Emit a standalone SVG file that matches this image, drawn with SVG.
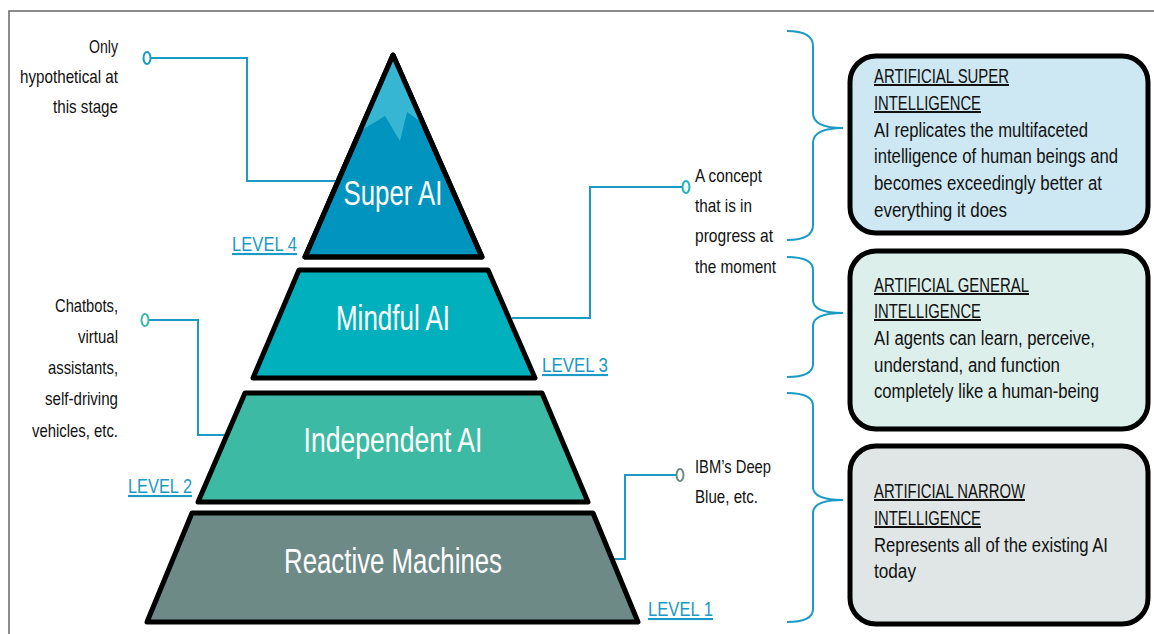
<svg xmlns="http://www.w3.org/2000/svg" width="1154" height="634" viewBox="0 0 1154 634">
<style>
.t{font-family:"Liberation Sans Narrow","Liberation Sans",Arial,sans-serif;fill:#111}
.lab{font-family:"Liberation Sans Narrow","Liberation Sans",Arial,sans-serif;fill:#fff;font-size:35px}
.lv{font-family:"Liberation Sans Narrow","Liberation Sans",Arial,sans-serif;fill:#1a9ac4;font-size:21px;text-decoration:underline}
.c{font-size:19px}
.b{font-size:20px}
.tier{stroke:#000;stroke-width:5;stroke-linejoin:round}
.ln{fill:none;stroke:#1a9ac4;stroke-width:2}
.box{stroke:#000;stroke-width:5}
</style>
<rect width="1154" height="634" fill="#fff"/>
<path d="M9,634 V11 H1154" fill="none" stroke="#666" stroke-width="1.5"/>

<g id="connectors">
<path class="ln" d="M151,58 H247 V181 H338"/>
<ellipse cx="147" cy="58" rx="3.5" ry="6" fill="#fff" stroke="#1a9ac4" stroke-width="2"/>
<path class="ln" d="M682,187 H590 V318 H512"/>
<ellipse cx="686" cy="187" rx="3.5" ry="6" fill="#fff" stroke="#1fb3bd" stroke-width="2"/>
<path class="ln" d="M149,320 H198 V435 H228"/>
<ellipse cx="145" cy="320" rx="3.5" ry="6" fill="#fff" stroke="#3dbba3" stroke-width="2"/>
<path class="ln" d="M676,475 H625 V559 H614"/>
<ellipse cx="680" cy="475" rx="3.5" ry="6" fill="#fff" stroke="#6e8b87" stroke-width="2"/>
<path class="ln" d="M787,31 Q813,31 813,46 V113 Q813,128 843,128 Q813,128 813,143 V225 Q813,240 787,240"/>
<path class="ln" d="M787,257 Q813,257 813,270 V300 Q813,313 843,313 Q813,313 813,326 V364 Q813,377 787,377"/>
<path class="ln" d="M787,393 Q813,393 813,406 V487 Q813,500 843,500 Q813,500 813,513 V609 Q813,622 787,622"/>
</g>

<g id="tier-super">
<path class="tier" d="M393,55 L305,257 L482,257 Z" fill="#0094bf"/>
<path d="M393,58 L362,130 L385,116 L400,141 L407,112 L421,122 Z" fill="#36b6d3"/>
<path d="M393,55 L305,257 L482,257 Z" fill="none" stroke="#000" stroke-width="5" stroke-linejoin="round"/>
<text class="lab" x="393" y="205" text-anchor="middle" textLength="99" lengthAdjust="spacingAndGlyphs">Super AI</text>
<text class="lv" x="232" y="251" textLength="65" lengthAdjust="spacingAndGlyphs">LEVEL 4</text>
</g>

<g id="tier-mindful">
<path class="tier" d="M299,270 L488,270 L535,378 L253,378 Z" fill="#00b1bd"/>
<text class="lab" x="393" y="330" text-anchor="middle" textLength="114" lengthAdjust="spacingAndGlyphs">Mindful AI</text>
<text class="lv" x="542" y="372" textLength="66" lengthAdjust="spacingAndGlyphs">LEVEL 3</text>
</g>

<g id="tier-independent">
<path class="tier" d="M245,393 L542,393 L588,502 L198,502 Z" fill="#3cbaa3"/>
<text class="lab" x="393" y="452" text-anchor="middle" textLength="179" lengthAdjust="spacingAndGlyphs">Independent AI</text>
<text class="lv" x="128" y="493" textLength="64" lengthAdjust="spacingAndGlyphs">LEVEL 2</text>
</g>

<g id="tier-reactive">
<path class="tier" d="M192,513 L593,513 L638,622 L147,622 Z" fill="#6d8a87"/>
<text class="lab" x="393" y="573" text-anchor="middle" textLength="218" lengthAdjust="spacingAndGlyphs">Reactive Machines</text>
<text class="lv" x="648" y="616" textLength="65" lengthAdjust="spacingAndGlyphs">LEVEL 1</text>
</g>

<g id="note-super" class="t c" text-anchor="end">
<text x="118" y="53" textLength="29" lengthAdjust="spacingAndGlyphs">Only</text>
<text x="118" y="83" textLength="98" lengthAdjust="spacingAndGlyphs">hypothetical at</text>
<text x="118" y="113" textLength="65" lengthAdjust="spacingAndGlyphs">this stage</text>
</g>

<g id="note-mindful" class="t c">
<text x="695" y="182" textLength="67" lengthAdjust="spacingAndGlyphs">A concept</text>
<text x="695" y="212" textLength="57" lengthAdjust="spacingAndGlyphs">that is in</text>
<text x="695" y="242" textLength="78" lengthAdjust="spacingAndGlyphs">progress at</text>
<text x="695" y="273" textLength="81" lengthAdjust="spacingAndGlyphs">the moment</text>
</g>

<g id="note-independent" class="t c" text-anchor="end">
<text x="118" y="312" textLength="63" lengthAdjust="spacingAndGlyphs">Chatbots,</text>
<text x="118" y="343" textLength="40" lengthAdjust="spacingAndGlyphs">virtual</text>
<text x="118" y="374" textLength="70" lengthAdjust="spacingAndGlyphs">assistants,</text>
<text x="118" y="405" textLength="73" lengthAdjust="spacingAndGlyphs">self-driving</text>
<text x="118" y="437" textLength="86" lengthAdjust="spacingAndGlyphs">vehicles, etc.</text>
</g>

<g id="note-reactive" class="t c">
<text x="695" y="473" textLength="76" lengthAdjust="spacingAndGlyphs">IBM’s Deep</text>
<text x="695" y="503" textLength="63" lengthAdjust="spacingAndGlyphs">Blue, etc.</text>
</g>

<g id="box-super">
<rect class="box" x="850" y="56" width="298" height="177" rx="26" fill="#cde8f2"/>
<g class="t b">
<text x="874" y="83" text-decoration="underline" textLength="135" lengthAdjust="spacingAndGlyphs">ARTIFICIAL SUPER</text>
<text x="874" y="110" text-decoration="underline" textLength="107" lengthAdjust="spacingAndGlyphs">INTELLIGENCE</text>
<text x="874" y="137" textLength="214" lengthAdjust="spacingAndGlyphs">AI replicates the multifaceted</text>
<text x="874" y="163" textLength="244" lengthAdjust="spacingAndGlyphs">intelligence of human beings and</text>
<text x="874" y="190" textLength="228" lengthAdjust="spacingAndGlyphs">becomes exceedingly better at</text>
<text x="874" y="217" textLength="133" lengthAdjust="spacingAndGlyphs">everything it does</text>
</g>
</g>

<g id="box-general">
<rect class="box" x="850" y="251" width="298" height="178" rx="26" fill="#dcefea"/>
<g class="t b">
<text x="874" y="292" text-decoration="underline" textLength="155" lengthAdjust="spacingAndGlyphs">ARTIFICIAL GENERAL</text>
<text x="874" y="318" text-decoration="underline" textLength="107" lengthAdjust="spacingAndGlyphs">INTELLIGENCE</text>
<text x="874" y="345" textLength="221" lengthAdjust="spacingAndGlyphs">AI agents can learn, perceive,</text>
<text x="874" y="372" textLength="186" lengthAdjust="spacingAndGlyphs">understand, and function</text>
<text x="874" y="398" textLength="225" lengthAdjust="spacingAndGlyphs">completely like a human-being</text>
</g>
</g>

<g id="box-narrow">
<rect class="box" x="850" y="446" width="298" height="178" rx="26" fill="#dfe6e5"/>
<g class="t b">
<text x="874" y="498" text-decoration="underline" textLength="151" lengthAdjust="spacingAndGlyphs">ARTIFICIAL NARROW</text>
<text x="874" y="525" text-decoration="underline" textLength="107" lengthAdjust="spacingAndGlyphs">INTELLIGENCE</text>
<text x="874" y="552" textLength="234" lengthAdjust="spacingAndGlyphs">Represents all of the existing AI</text>
<text x="874" y="578" textLength="42" lengthAdjust="spacingAndGlyphs">today</text>
</g>
</g>
</svg>
